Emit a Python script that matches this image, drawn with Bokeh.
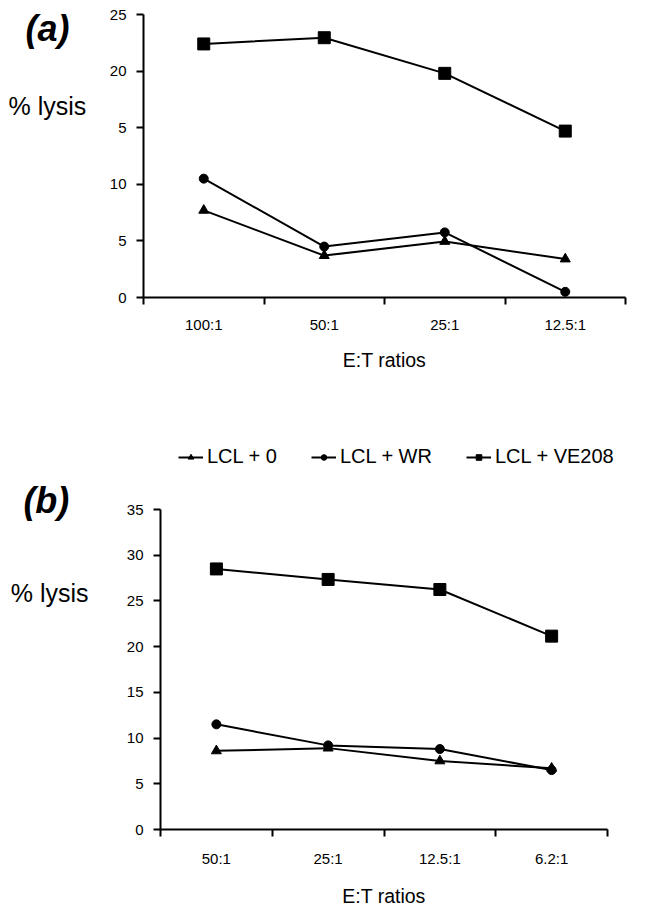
from bokeh.plotting import figure
from bokeh.layouts import column
from bokeh.models import FixedTicker, Label, Legend, LegendItem
from bokeh.embed import file_html
from bokeh.resources import INLINE

# ---- data ----
ratios_a = ["100:1", "50:1", "25:1", "12.5:1"]
lcl0_a = [7.7, 3.7, 4.95, 3.4]
lclwr_a = [10.5, 4.5, 5.75, 0.5]
lclve_a = [22.4, 22.95, 19.8, 14.7]
yticks_a = [0, 5, 10, 15, 20, 25]
ytick_labels_a = ["0", "5", "10", "5", "20", "25"]

ratios_b = ["50:1", "25:1", "12.5:1", "6.2:1"]
lcl0_b = [8.6, 8.9, 7.5, 6.7]
lclwr_b = [11.5, 9.2, 8.8, 6.5]
lclve_b = [28.5, 27.35, 26.25, 21.15]
yticks_b = [0, 5, 10, 15, 20, 25, 30, 35]
ytick_labels_b = [str(v) for v in yticks_b]

series_names = ["LCL + 0", "LCL + WR", "LCL + VE208"]
markers = ["triangle", "circle", "square"]
marker_sizes = [10, 9, 12]

FONT = "Liberation Sans"
W = 647


def make_panel(cats, series, yticks, ylabels, ymax, height, px0, px1, py0, pytop,
               tick_standoff, label_standoff):
    """px0/px1: pixel x of axis start/end; py0/pytop: pixel y of 0 and ymax."""
    n = len(cats)
    sx = (px1 - px0) / n
    sy = (py0 - pytop) / ymax
    x_range = (-px0 / sx, n + (W - px1) / sx)
    y_range = (-(height - py0) / sy, ymax + pytop / sy)
    p = figure(width=W, height=height, x_range=x_range, y_range=y_range,
               output_backend="svg", toolbar_location=None, min_border=0,
               min_border_top=0, min_border_bottom=0, min_border_left=0, min_border_right=0)
    p.outline_line_color = None
    p.xgrid.visible = False
    p.ygrid.visible = False

    xs = [i + 0.5 for i in range(n)]
    xa = p.xaxis[0]
    xa.fixed_location = 0
    xa.bounds = (0, n)
    xa.ticker = FixedTicker(ticks=xs, minor_ticks=list(range(n + 1)))
    xa.major_label_overrides = {x: c for x, c in zip(xs, cats)}
    xa.major_tick_line_color = None
    xa.major_tick_out = 0
    xa.major_tick_in = 0
    xa.minor_tick_out = 7
    xa.minor_tick_in = 0
    xa.minor_tick_line_width = 2
    xa.minor_tick_line_color = "black"
    xa.axis_label = "E:T ratios"
    xa.major_label_standoff = tick_standoff
    xa.axis_label_standoff = label_standoff

    ya = p.yaxis[0]
    ya.fixed_location = 0
    ya.bounds = (0, ymax)
    ya.ticker = FixedTicker(ticks=yticks)
    ya.major_label_overrides = {t: l for t, l in zip(yticks, ylabels)}
    ya.major_tick_out = 7
    ya.major_tick_in = 0
    ya.minor_tick_line_color = None
    ya.major_tick_line_width = 2
    ya.major_tick_line_color = "black"
    ya.major_label_standoff = 10

    for ax in (xa, ya):
        ax.axis_line_width = 2
        ax.axis_line_color = "black"
        ax.major_label_text_font = FONT
        ax.major_label_text_font_size = "15px"
        ax.major_label_text_color = "black"
        ax.axis_label_text_font = FONT
        ax.axis_label_text_font_size = "19.5px"
        ax.axis_label_text_font_style = "normal"
        ax.axis_label_text_color = "black"

    items = []
    for name, vals, mk, ms in zip(series_names, series, markers, marker_sizes):
        r1 = p.line(xs, vals, line_color="black", line_width=2)
        r2 = p.scatter(xs, vals, marker=mk, size=ms, fill_color="black", line_color="black")
        items.append(LegendItem(label=name, renderers=[r1, r2]))
    return p, items


def panel_label(p, x, y, text, size, style="normal"):
    p.add_layout(Label(x=x, y=y, text=text, text_font=FONT, text_font_size=size,
                       text_font_style=style, text_color="black",
                       text_baseline="middle", text_align="left"))


H1, H2 = 440, 473

top, _ = make_panel(ratios_a, [lcl0_a, lclwr_a, lclve_a], yticks_a, ytick_labels_a, 25,
                    height=H1, px0=143, px1=625, py0=297, pytop=14,
                    tick_standoff=11, label_standoff=13)
panel_label(top, -0.979, 23.76, "(a)", "36px", "bold italic")
panel_label(top, -1.12, 16.96, "% lysis", "25px")

bottom, items = make_panel(ratios_b, [lcl0_b, lclwr_b, lclve_b], yticks_b, ytick_labels_b, 35,
                           height=H2, px0=160, px1=607, py0=389, pytop=69,
                           tick_standoff=13, label_standoff=15)
panel_label(bottom, -1.227, 36.0, "(b)", "36px", "bold italic")
panel_label(bottom, -1.34, 25.85, "% lysis", "25px")

legend = Legend(items=items, orientation="horizontal", location=(178, 445),
                glyph_width=25, glyph_height=14, label_height=16, label_standoff=4, spacing=34,
                padding=0, margin=0, border_line_color=None, background_fill_alpha=0,
                label_text_font=FONT, label_text_font_size="20px", label_text_color="black")
bottom.add_layout(legend, "center")

layout = column(top, bottom, spacing=0)
open("out.html", "w").write(file_html(layout, INLINE))
